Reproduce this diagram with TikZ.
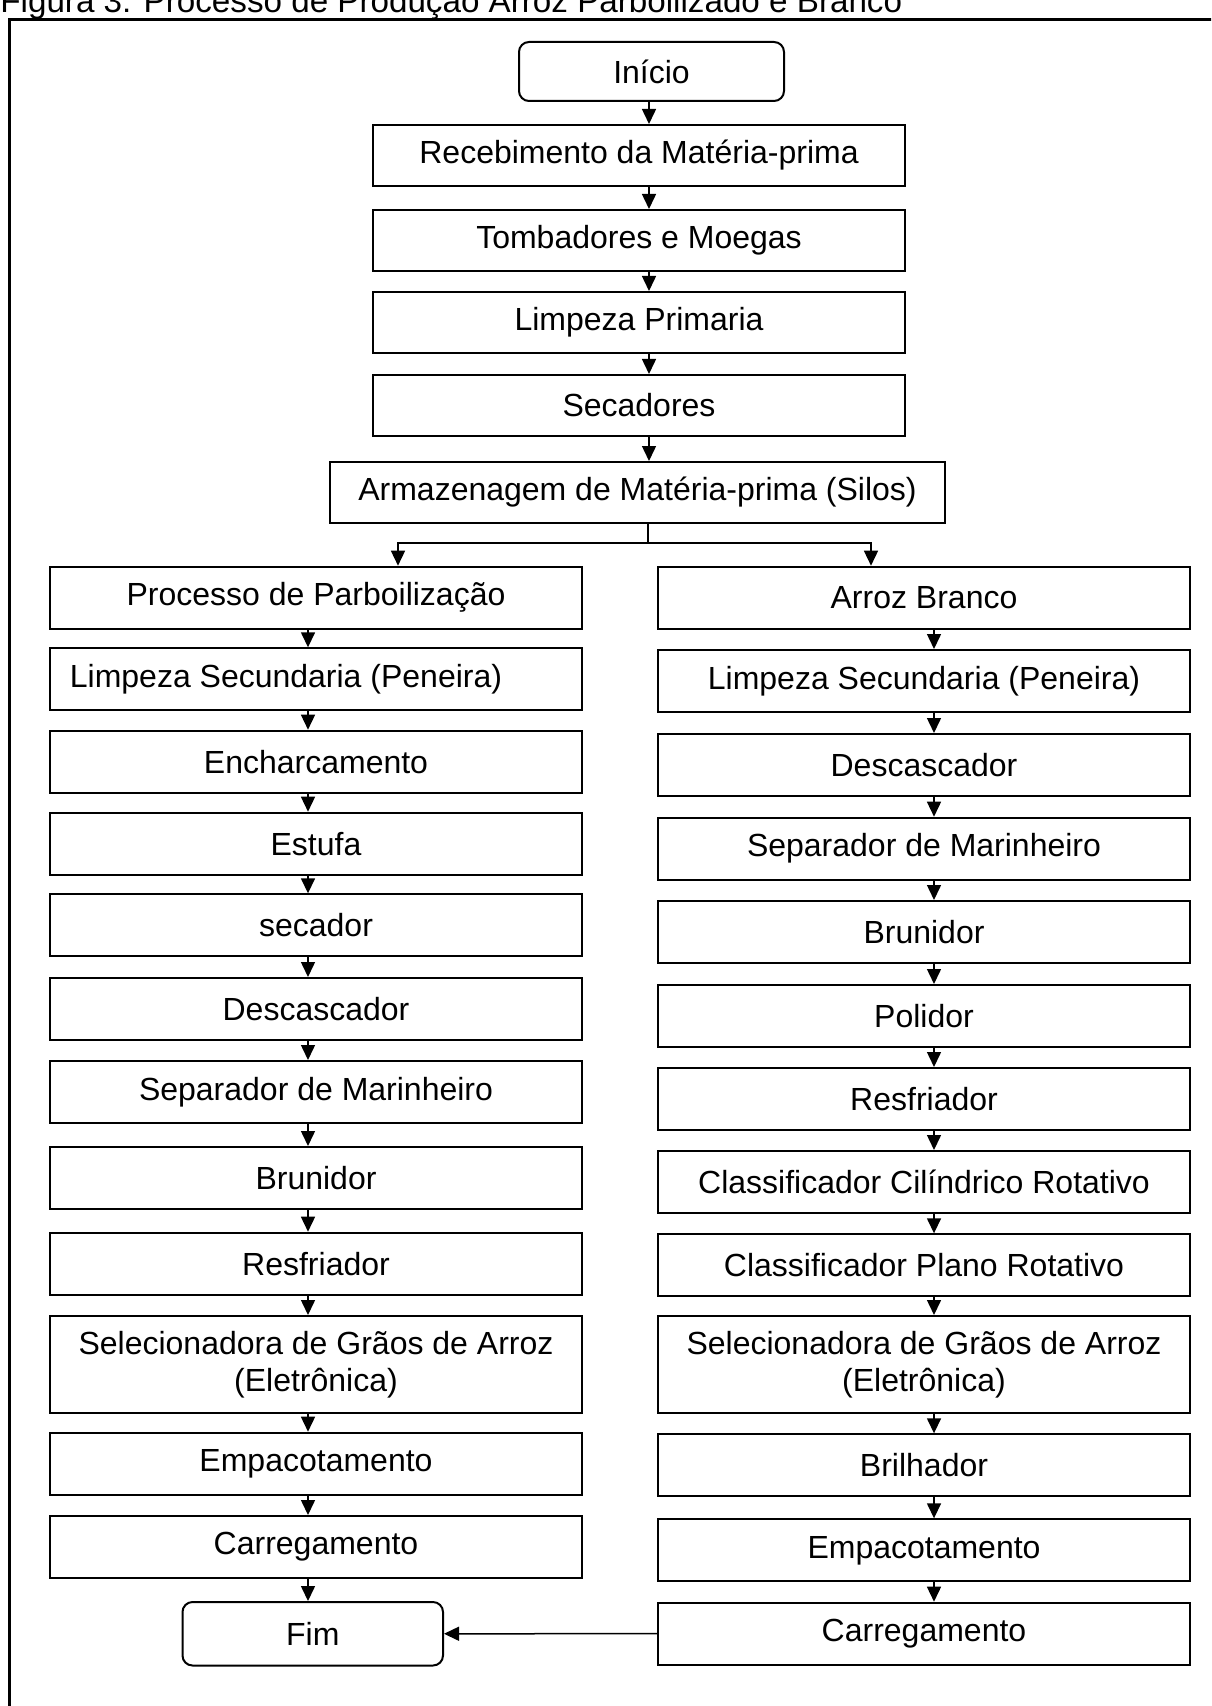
\documentclass[tikz,border=0pt]{standalone}
\usepackage{fontspec}
\setmainfont{Liberation Sans}
\usetikzlibrary{arrows.meta}
\begin{document}
\begin{tikzpicture}[x=0.5pt,y=-0.5pt,
  box/.style={draw,line width=1pt,rectangle,minimum width=266pt,minimum height=31pt,
    inner sep=0pt,font=\fontsize{16}{18.4}\selectfont,align=center},
  tallbox/.style={box,minimum height=48.5pt},
  term/.style={box,rounded corners=5pt},
  arr/.style={line width=0.75pt,-{Triangle[length=7.5pt,width=7pt]}},
  frameline/.style={line width=1.5pt}]
\useasboundingbox (0,0) rectangle (1211,1706);
\clip (0,0) rectangle (1211,1706);

% title and frame
\node[anchor=base west,inner sep=0pt,font=\fontsize{16.6}{18}\selectfont] (title) at (0,13)
  {Figura 3: Processo de Produção Arroz Parboilizado e Branco};
\draw[frameline] (9,1730) -- (9,20) -- (1230,20);

% column x positions for arrows
\coordinate (cc) at (649,0);
\coordinate (cl) at (308,0);
\coordinate (cr) at (934,0);

% central column
\node[term,minimum width=132.5pt,minimum height=29.5pt] (ini) at (651.5,71.5) {Início};
\node[box,minimum height=30.5pt] (rec) at (639,155.5) {Recebimento da Matéria-prima};
\node[box,minimum height=30.5pt] (tom) at (639,240.5) {Tombadores e Moegas};
\node[box,minimum height=30.5pt] (lp)  at (639,322.5) {Limpeza Primaria};
\node[box,minimum height=30.5pt] (sec) at (639,405.5) {Secadores};
\node[box,minimum width=307.5pt,minimum height=30.5pt] (arm) at (637.5,492.5) {Armazenagem de Matéria-prima (Silos)};

% left column
\node[box] (l1)  at (316,597.7)  {Processo de Parboilização};
\node[box] (l2)  at (316,679.3)  {Limpeza Secundaria (Peneira)\kern30pt};
\node[box] (l3)  at (316,761.7)  {Encharcamento};
\node[box] (l4)  at (316,843.7)  {Estufa};
\node[box] (l5)  at (316,925.3)  {secador};
\node[box] (l6)  at (316,1009)   {Descascador};
\node[box] (l7)  at (316,1092)   {Separador de Marinheiro};
\node[box] (l8)  at (316,1178)   {Brunidor};
\node[box] (l9)  at (316,1263.7) {Resfriador};
\node[tallbox] (l10) at (316,1364.5) {Selecionadora de Grãos de Arroz\\(Eletrônica)};
\node[box] (l11) at (316,1463.7) {Empacotamento};
\node[box] (l12) at (316,1547)   {Carregamento};
\node[term,minimum width=130.25pt,minimum height=31.75pt] (fim) at (312.75,1633.75) {Fim};

% right column
\node[box] (r1)  at (924,597.7)  {Arroz Branco};
\node[box] (r2)  at (924,681)    {Limpeza Secundaria (Peneira)};
\node[box] (r3)  at (924,765)    {Descascador};
\node[box] (r4)  at (924,848.7)  {Separador de Marinheiro};
\node[box] (r5)  at (924,932)    {Brunidor};
\node[box] (r6)  at (924,1016)   {Polidor};
\node[box] (r7)  at (924,1099)   {Resfriador};
\node[box] (r8)  at (924,1182)   {Classificador Cilíndrico Rotativo};
\node[box] (r9)  at (924,1265.3) {Classificador Plano Rotativo};
\node[tallbox] (r10) at (924,1364.5) {Selecionadora de Grãos de Arroz\\(Eletrônica)};
\node[box] (r11) at (924,1465.3) {Brilhador};
\node[box] (r12) at (924,1550.3) {Empacotamento};
\node[box] (r13) at (924,1633.7) {Carregamento};

% central arrows
\foreach \a/\b in {ini/rec,rec/tom,tom/lp,lp/sec,sec/arm}
  \draw[arr] (\a.south -| cc) -- (cc |- \b.north);

% branch
\coordinate (j) at (648,543);
\draw[line width=0.75pt] (arm.south -| j) -- (j);
\draw[arr] (j) -| ([xshift=41pt]l1.north);
\draw[arr] (j) -| ([xshift=-26.5pt]r1.north);

% left arrows
\foreach \a/\b in {l1/l2,l2/l3,l3/l4,l4/l5,l5/l6,l6/l7,l7/l8,l8/l9,l9/l10,l10/l11,l11/l12,l12/fim}
  \draw[arr] (\a.south -| cl) -- (cl |- \b.north);

% right arrows
\foreach \a/\b in {r1/r2,r2/r3,r3/r4,r4/r5,r5/r6,r6/r7,r7/r8,r8/r9,r9/r10,r10/r11,r11/r12,r12/r13}
  \draw[arr] (\a.south -| cr) -- (cr |- \b.north);

% to end
\draw[arr] (r13.west) -- (fim.east);
\end{tikzpicture}
\end{document}
